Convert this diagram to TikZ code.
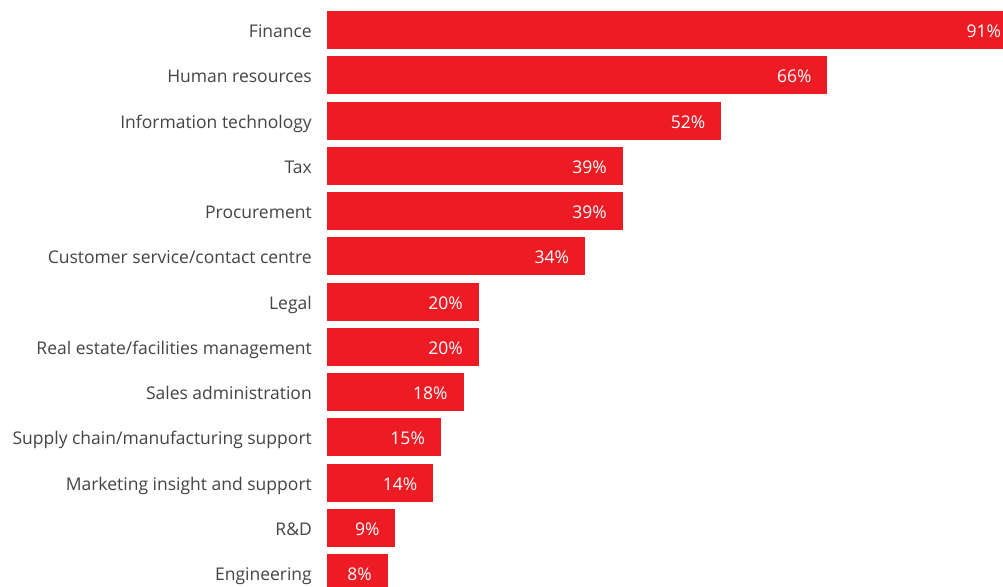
\documentclass[tikz,border=0pt]{standalone}
\usepackage{fontspec}
\setmainfont{Open Sans}
\usetikzlibrary{positioning}
\definecolor{barred}{HTML}{ED1C24}
\definecolor{labelgray}{HTML}{444444}

\begin{document}
\begin{tikzpicture}[x=1pt,y=1pt,
bar/.style={fill=barred,draw=none,rectangle,minimum height=38pt,inner sep=0pt,anchor=west},
cat/.style={text=labelgray,font=\fontsize{17.5}{19}\selectfont,inner sep=0pt,anchor=base east},
pct/.style={text=white,font=\fontsize{17.5}{19}\selectfont,inner sep=0pt,anchor=base east}]
\useasboundingbox (0,0) rectangle (1003,-586);
\begin{scope}
\clip (0,0) rectangle (1003,-586);
\foreach \name/\val [count=\i] in {
    Finance/91,
    Human resources/66,
    Information technology/52,
    Tax/39,
    Procurement/39,
    {Customer service/contact centre}/34,
    Legal/20,
    {Real estate/facilities management}/20,
    Sales administration/18,
    {Supply chain/manufacturing support}/15,
    Marketing insight and support/14,
    {R\&D}/9,
    Engineering/8} {
  \node (bar\i) [bar,minimum width=\val*7.58pt] at (327,{-30-(\i-1)*45.25}) {};
  \node (pct\i) [pct] at ([xshift=-16pt,yshift=-7.5pt]bar\i.east) {\val\%};
  \node (cat\i) [cat] at ([xshift=-15pt,yshift=-7.5pt]bar\i.west) {\name};
}
\end{scope}
\end{tikzpicture}
\end{document}
